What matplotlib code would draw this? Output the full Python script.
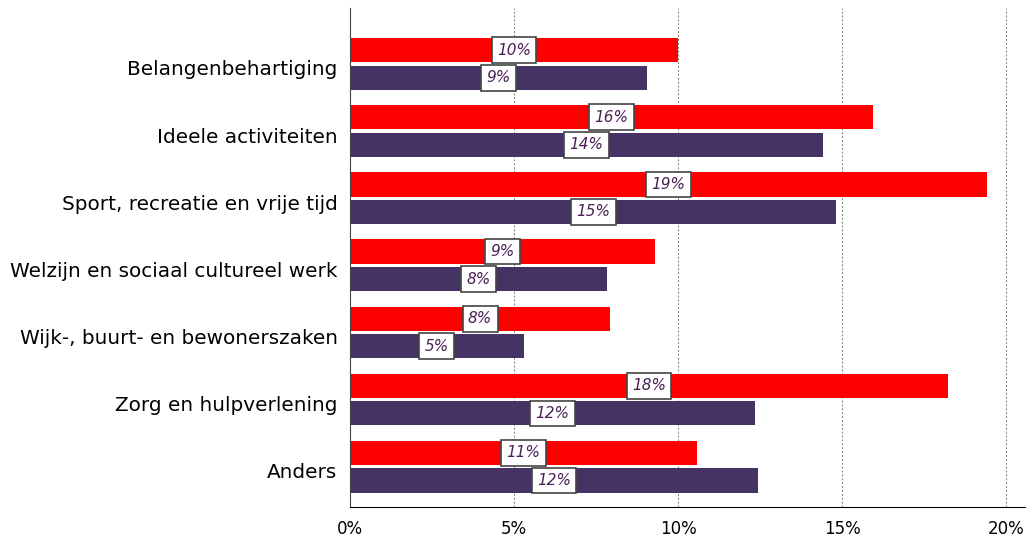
import matplotlib.pyplot as plt
import numpy as np

categories = ["Belangenbehartiging", "Ideele activiteiten", "Sport, recreatie en vrije tijd",
              "Welzijn en sociaal cultureel werk", "Wijk-, buurt- en bewonerszaken",
              "Zorg en hulpverlening", "Anders"]
red_vals = [10.0, 15.95, 19.4, 9.3, 7.93, 18.23, 10.58]
purple_vals = [9.05, 14.42, 14.82, 7.84, 5.3, 12.35, 12.44]
xticks = [0, 5, 10, 15, 20]

fig = plt.figure(figsize=(10.26, 5.37), dpi=100)
ax = fig.add_axes([350/1026, 30/537, 676/1026, 499/537])

y = np.arange(len(categories))
h = 0.36
off = 0.205
ax.barh(y - off, red_vals, height=h, color="#ff0000", zorder=2)
ax.barh(y + off, purple_vals, height=h, color="#463366", zorder=2)

box = dict(boxstyle="square,pad=0.35", fc="white", ec="#444444", lw=1.2)
for yy, v in zip(y, red_vals):
    ax.text(v / 2, yy - off, "%d%%" % round(v), ha="center", va="center", fontsize=11,
            style="italic", color="#4a1f55", bbox=box, zorder=3)
for yy, v in zip(y, purple_vals):
    ax.text(v / 2, yy + off, "%d%%" % round(v), ha="center", va="center", fontsize=11,
            style="italic", color="#4a1f55", bbox=box, zorder=3)

ax.set_xlim(0, 20.6)
ax.set_ylim(6.6, -0.833)
ax.set_yticks(y + 0.06)
ax.set_yticklabels(categories, fontsize=14.4)
ax.set_xticks(xticks)
ax.set_xticklabels(["%d%%" % t for t in xticks], fontsize=12)
ax.tick_params(length=0)
ax.tick_params(axis="x", pad=9)
ax.tick_params(axis="y", pad=9)
for t in xticks[1:]:
    ax.axvline(t, color="#777777", ls=(0, (2, 2)), lw=0.7, zorder=1)

ax.spines["top"].set_visible(False)
ax.spines["right"].set_visible(False)
ax.spines["left"].set_color("#444444")
ax.spines["bottom"].set_color("black")

fig.savefig("out.png", dpi=100)
